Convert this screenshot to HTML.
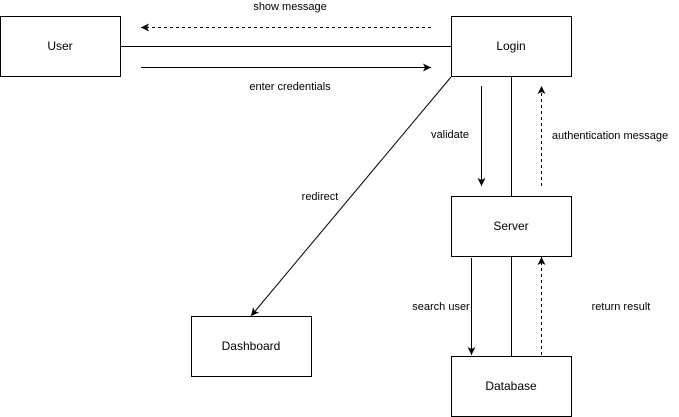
<!DOCTYPE html>
<html><head><style>
body{margin:0;background:#fff;width:679px;height:417px;overflow:hidden}
svg{display:block}
text{font-family:"Liberation Sans",sans-serif;font-size:11px;fill:#000}
.b{font-size:12px}
</style></head><body>
<svg width="679" height="417" viewBox="0 0 679 417">
<defs>
<marker id="a" markerWidth="10" markerHeight="10" refX="8" refY="5" orient="auto" markerUnits="userSpaceOnUse">
<path d="M0,1 L8,5 L0,9 L2,5 Z" fill="#000"/></marker>
</defs>
<g fill="#fff" stroke="#000" stroke-width="1">
<rect x="0.5" y="16.5" width="120" height="60"/>
<rect x="451.5" y="16.5" width="120" height="60"/>
<rect x="451.5" y="196.5" width="120" height="60"/>
<rect x="451.5" y="356.5" width="120" height="60"/>
<rect x="191.5" y="316.5" width="120" height="60"/>
</g>
<g stroke="#000" stroke-width="1" fill="none">
<line x1="121" y1="46.5" x2="451" y2="46.5"/>
<line x1="431" y1="27.5" x2="141" y2="27.5" stroke-dasharray="3,3" marker-end="url(#a)"/>
<line x1="141" y1="67.5" x2="431" y2="67.5" marker-end="url(#a)"/>
<line x1="511.5" y1="77" x2="511.5" y2="196"/>
<line x1="481.5" y1="86" x2="481.5" y2="186" marker-end="url(#a)"/>
<line x1="541.5" y1="186" x2="541.5" y2="86" stroke-dasharray="3,3" marker-end="url(#a)"/>
<line x1="451" y1="77" x2="251" y2="316" marker-end="url(#a)"/>
<line x1="511.5" y1="257" x2="511.5" y2="356"/>
<line x1="471.5" y1="258" x2="471.5" y2="355" marker-end="url(#a)"/>
<line x1="541.5" y1="355" x2="541.5" y2="257" stroke-dasharray="3,3" marker-end="url(#a)"/>
</g>
<g text-anchor="middle">
<text class="b" x="60" y="50">User</text>
<text class="b" x="511" y="50">Login</text>
<text class="b" x="511" y="230">Server</text>
<text class="b" x="511" y="390">Database</text>
<text class="b" x="251" y="350">Dashboard</text>
<text x="290" y="10">show message</text>
<text x="290" y="90">enter credentials</text>
<text x="450" y="138">validate</text>
<text x="610" y="139">authentication message</text>
<text x="320" y="200">redirect</text>
<text x="441" y="310">search user</text>
<text x="621" y="310">return result</text>
</g>
</svg>
</body></html>
